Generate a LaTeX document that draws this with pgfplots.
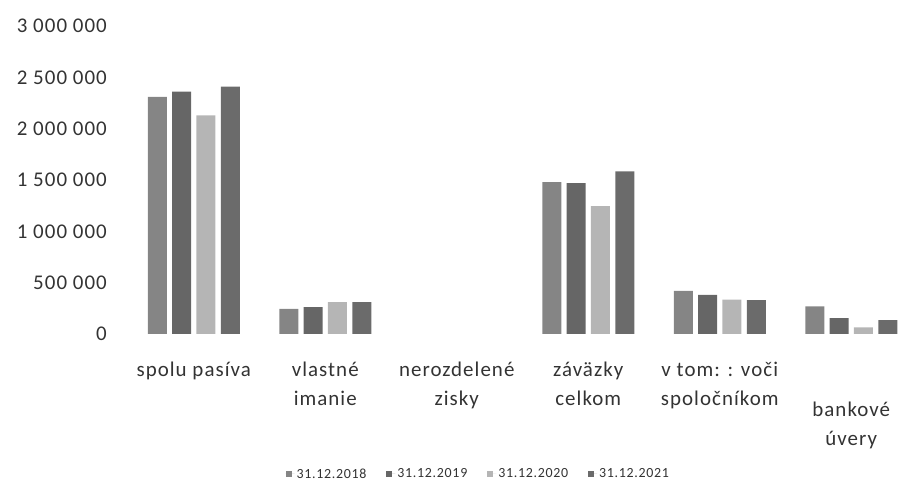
\documentclass[border=0pt]{standalone}
\usepackage{fontspec}
\setmainfont{Carlito}[LetterSpace=5]
\usepackage{pgfplots}
\pgfplotsset{compat=1.18}
\definecolor{cA}{HTML}{858585}
\definecolor{cB}{HTML}{666666}
\definecolor{cC}{HTML}{B5B5B5}
\definecolor{cD}{HTML}{6B6B6B}
\definecolor{txt}{HTML}{333333}
\begin{document}
\begin{tikzpicture}
\useasboundingbox (0,0) rectangle (898bp,486bp);
\begin{axis}[
  at={(128bp,152bp)}, anchor=south west,
  scale only axis, width=789bp, height=308bp,
  xmin=-0.5, xmax=5.5, ymin=0, ymax=3000000,
  axis line style={draw=none}, major tick style={draw=none},
  ybar, bar width=19bp,
  xtick={0,1,2,3,4},
  xticklabels={spolu pasíva,{vlastné\\imanie},{nerozdelené\\zisky},{záväzky\\celkom},{v tom: : voči\\spoločníkom}},
  extra x ticks={5},
  extra x tick labels={{bankové\\úvery}},
  extra x tick style={xticklabel style={yshift=-40bp}},
  xticklabel style={anchor=north, inner sep=0pt, yshift=-24bp, align=center, text=txt,
    font=\fontsize{21}{28.5}\selectfont},
  ytick={0,500000,1000000,1500000,2000000,2500000,3000000},
  yticklabels={0,500 000,1 000 000,1 500 000,2 000 000,2 500 000,3 000 000},
  scaled y ticks=false,
  yticklabel style={anchor=east, inner sep=0pt, xshift=-21bp, text=txt,
    font=\fontsize{21}{25}\selectfont},
  legend style={at={(axis description cs:0.444,-0.4545)}, anchor=center, draw=none,
    font=\fontsize{14}{16}\selectfont, text=txt, legend columns=4,
    /tikz/every even column/.append style={column sep=18bp}},
  legend image code/.code={\fill[#1] (0bp,-3bp) rectangle (6bp,3bp);
    \path (0bp,0bp) -- (9bp,0bp);},
]
\addplot[fill=cA, draw=none, bar shift=-36.5bp] coordinates {(0,2310000) (1,245000) (2,0) (3,1480000) (4,420000) (5,270000)};
\addplot[fill=cB, draw=none, bar shift=-12.2bp] coordinates {(0,2360000) (1,262000) (2,0) (3,1470000) (4,380000) (5,155000)};
\addplot[fill=cC, draw=none, bar shift=12.2bp] coordinates {(0,2130000) (1,310000) (2,0) (3,1245000) (4,335000) (5,65000)};
\addplot[fill=cD, draw=none, bar shift=36.5bp] coordinates {(0,2410000) (1,310000) (2,0) (3,1585000) (4,330000) (5,135000)};
\legend{31.12.2018,31.12.2019,31.12.2020,31.12.2021}
\end{axis}
\end{tikzpicture}
\end{document}
